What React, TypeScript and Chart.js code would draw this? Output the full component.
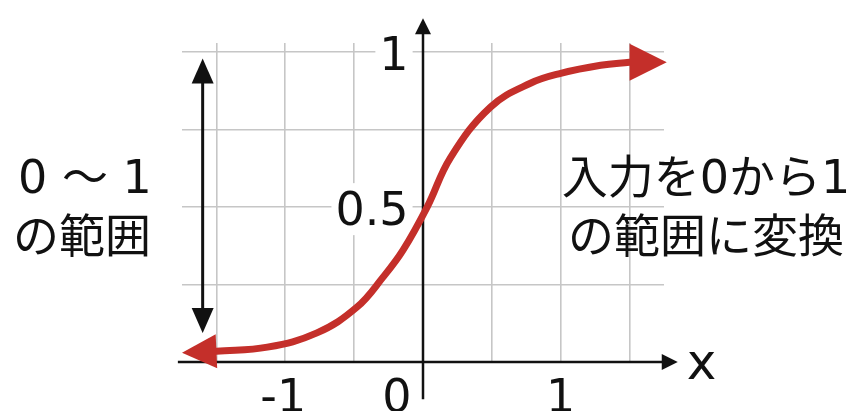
import React, { useEffect, useRef } from "react";
import { Chart, registerables } from "chart.js";

Chart.register(...registerables);

// ---- data ----
const curveX = [-1.5, -1.13, -0.77, -0.48, -0.29, -0.145, 0.03, 0.2, 0.49, 0.78, 1.0, 1.29, 1.5];
const curveY = [0.035, 0.048, 0.094, 0.177, 0.274, 0.361, 0.5, 0.66, 0.823, 0.9, 0.932, 0.958, 0.968];
const arrowTipStart = [-1.75, 0.03];
const arrowTipEnd = [1.77, 0.968];
const gridXValues = [-1.5, -1, -0.5, 0, 0.5, 1, 1.5];
const gridYValues = [0, 0.25, 0.5, 0.75, 1];
const xTickValues = [-1, 0, 1];
const xTickLabels = ["-1", "0", "1"];
const yTickValues = [1, 0.5];
const yTickLabels = ["1", "0.5"];
const rangeArrowX = -1.6;
const rangeArrowY = [0.094, 0.98];
const leftNote = ["0 ～ 1", "の範囲"];
const rightNote = ["入力を0から1", "の範囲に変換"];
const axisLabelX = "x";

// ---- layout / style ----
const W = 857;
const H = 411;
const xMin = -1.75;
const xMax = 1.75;
const yMin = 0;
const yMax = 1.03;
const xAxisExtent = [-1.78, 1.85];
const yAxisExtent = [-0.12, 1.11];
const FONT = '"DejaVu Sans", "Noto Sans CJK JP", sans-serif';
const RED = "#c42f2a";
const INK = "#111111";
const GRID = "#c6c6c6";

function arrowHead(ctx: CanvasRenderingContext2D, fx: number, fy: number, tx: number, ty: number, len: number, wid: number, color: string) {
  const a = Math.atan2(ty - fy, tx - fx);
  const bx = tx - Math.cos(a) * len;
  const by = ty - Math.sin(a) * len;
  const nx = -Math.sin(a) * wid / 2;
  const ny = Math.cos(a) * wid / 2;
  ctx.beginPath();
  ctx.moveTo(tx, ty);
  ctx.lineTo(bx + nx, by + ny);
  ctx.lineTo(bx - nx, by - ny);
  ctx.closePath();
  ctx.fillStyle = color;
  ctx.fill();
}

const decorPlugin = {
  id: "decor",
  beforeDatasetsDraw(chart: any) {
    const ctx: CanvasRenderingContext2D = chart.ctx;
    const xs = chart.scales.x;
    const ys = chart.scales.y;
    const px = (v: number) => xs.getPixelForValue(v);
    const py = (v: number) => ys.getPixelForValue(v);
    ctx.save();

    // y tick labels with white backing
    ctx.font = `46px ${FONT}`;
    ctx.textAlign = "center";
    ctx.textBaseline = "alphabetic";
    yTickValues.forEach((v, i) => {
      const label = yTickLabels[i];
      const w = ctx.measureText(label).width;
      const cx = label.length > 1 ? px(0) - 51 : px(0) - 29;
      const by = py(v) + 18;
      ctx.fillStyle = "#ffffff";
      ctx.fillRect(cx - w / 2 - 4, by - 42, w + 8, 52);
      ctx.fillStyle = INK;
      ctx.fillText(label, cx, by);
    });

    // axes
    ctx.strokeStyle = INK;
    ctx.lineWidth = 2.5;
    ctx.beginPath();
    ctx.moveTo(px(xAxisExtent[0]), py(0));
    ctx.lineTo(px(xAxisExtent[1]) - 12, py(0));
    ctx.moveTo(px(0), py(yAxisExtent[0]));
    ctx.lineTo(px(0), py(yAxisExtent[1]) + 12);
    ctx.stroke();
    arrowHead(ctx, px(0), py(0), px(xAxisExtent[1]), py(0), 16, 16, INK);
    arrowHead(ctx, px(0), py(0), px(0), py(yAxisExtent[1]), 16, 16, INK);

    // x tick labels
    ctx.fillStyle = INK;
    xTickValues.forEach((v, i) => {
      const off = v === 0 ? -26 : v < 0 ? -2 : 0;
      ctx.fillText(xTickLabels[i], px(v) + off, 412);
    });
    ctx.font = `50px ${FONT}`;
    ctx.textAlign = "left";
    ctx.fillText(axisLabelX, px(xAxisExtent[1]) + 9, py(0) + 17);

    // range double arrow
    const rx = px(rangeArrowX);
    const rTop = py(rangeArrowY[1]);
    const rBot = py(rangeArrowY[0]);
    ctx.lineWidth = 3;
    ctx.beginPath();
    ctx.moveTo(rx, rTop + 20);
    ctx.lineTo(rx, rBot - 20);
    ctx.stroke();
    arrowHead(ctx, rx, rBot, rx, rTop, 25, 22, INK);
    arrowHead(ctx, rx, rTop, rx, rBot, 25, 22, INK);

    // notes
    ctx.font = `46px ${FONT}`;
    ctx.textAlign = "center";
    ctx.fillStyle = INK;
    ctx.fillText(leftNote[0], 85, 193);
    ctx.fillText(leftNote[1], 82, 252);
    ctx.fillText(rightNote[0], 706, 193);
    ctx.fillText(rightNote[1], 706, 252);
    ctx.restore();
  },
  afterDatasetsDraw(chart: any) {
    const ctx: CanvasRenderingContext2D = chart.ctx;
    const xs = chart.scales.x;
    const ys = chart.scales.y;
    const px = (v: number) => xs.getPixelForValue(v);
    const py = (v: number) => ys.getPixelForValue(v);
    ctx.save();
    const n = curveX.length - 1;
    const sx = px(curveX[0]), sy = py(curveY[0]);
    const tx0 = px(arrowTipStart[0]), ty0 = py(arrowTipStart[1]);
    arrowHead(ctx, sx, sy, tx0, ty0, Math.hypot(tx0 - sx, ty0 - sy), 34, RED);
    const ex = px(curveX[n]), ey = py(curveY[n]);
    const tx1 = px(arrowTipEnd[0]), ty1 = py(arrowTipEnd[1]);
    arrowHead(ctx, ex, ey, tx1, ty1, Math.hypot(tx1 - ex, ty1 - ey), 37, RED);
    ctx.restore();
  },
};

export default function App() {
  const ref = useRef<HTMLCanvasElement | null>(null);
  useEffect(() => {
    if (!ref.current) return;
    const chart = new Chart(ref.current, {
      type: "line",
      data: {
        datasets: [
          {
            data: curveX.map((x, i) => ({ x, y: curveY[i] })),
            borderColor: RED,
            borderWidth: 7,
            borderCapStyle: "round",
            pointRadius: 0,
            tension: 0.4,
            fill: false,
            clip: false as any,
          },
        ],
      },
      options: {
        animation: false,
        responsive: false,
        devicePixelRatio: 1,
        layout: { padding: { left: 182, right: 193, top: 43, bottom: 49 } },
        plugins: { legend: { display: false }, tooltip: { enabled: false } },
        scales: {
          x: {
            type: "linear",
            min: xMin,
            max: xMax,
            afterBuildTicks: (s: any) => {
              s.ticks = gridXValues.map((value) => ({ value }));
            },
            ticks: { display: false },
            grid: { color: GRID, lineWidth: 1.6, drawTicks: false },
            border: { display: false },
          },
          y: {
            type: "linear",
            min: yMin,
            max: yMax,
            afterBuildTicks: (s: any) => {
              s.ticks = gridYValues.map((value) => ({ value }));
            },
            ticks: { display: false },
            grid: { color: GRID, lineWidth: 1.6, drawTicks: false },
            border: { display: false },
          },
        },
      },
      plugins: [decorPlugin],
    });
    return () => chart.destroy();
  }, []);
  return (
    <div style={{ position: "fixed", left: 0, top: 0, width: W, height: H, background: "#ffffff" }}>
      <canvas ref={ref} width={W} height={H} style={{ display: "block" }} />
    </div>
  );
}
